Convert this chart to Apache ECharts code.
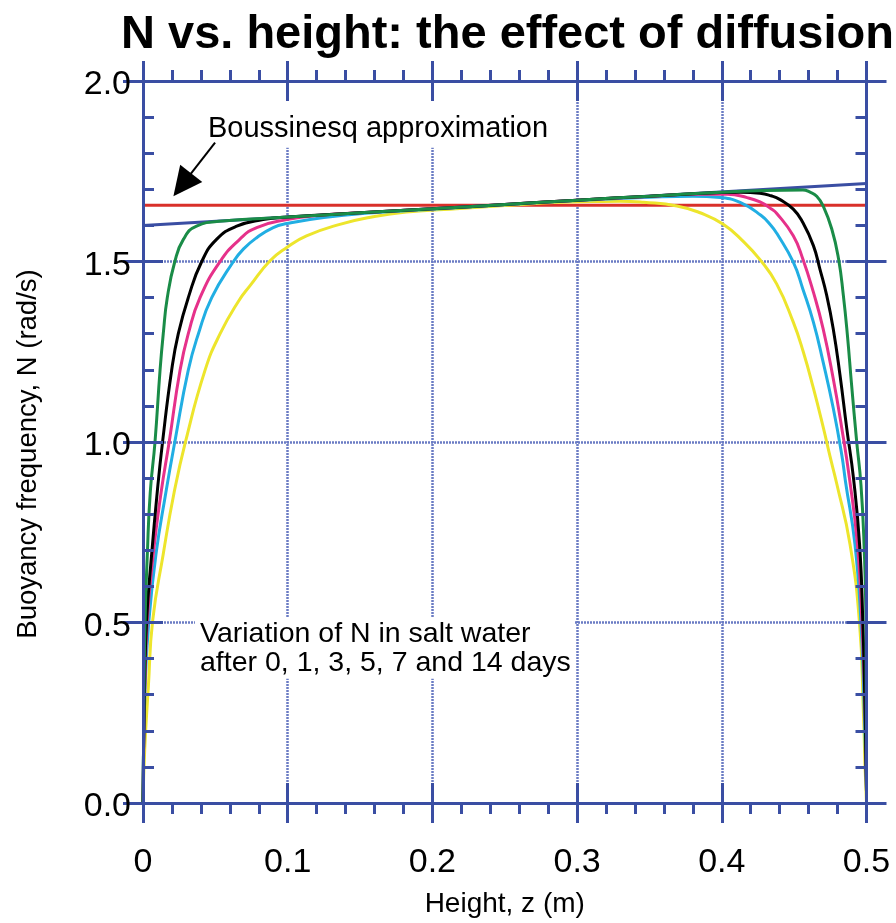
<!DOCTYPE html>
<html>
<head>
<meta charset="utf-8">
<script src="https://cdn.jsdelivr.net/npm/echarts@6/dist/echarts.min.js"></script>
<style>
  html, body { margin: 0; padding: 0; background: #ffffff; }
  #chart { width: 896px; height: 923px; }
</style>
</head>
<body>
<div id="chart"></div>
<script>
// Buoyancy frequency N (rad/s) against height z (m), pairs of [z, N]

// initial linear stratification (day 0)
const day0 = [[0, 1.600], [0.5, 1.716]];

// constant N of the Boussinesq approximation
const boussinesq = [[0, 1.656], [0.5, 1.656]];

// after 1 day
const day1 = [
  [0, 0], [0.0006, 0.25], [0.0014, 0.5], [0.003, 0.69], [0.005, 0.86], [0.0083, 1.0],
  [0.0118, 1.2], [0.014, 1.3], [0.0168, 1.4], [0.022, 1.5], [0.028, 1.562], [0.037, 1.598],
  [0.055, 1.612], [0.1, 1.623], [0.15, 1.635], [0.2, 1.646], [0.25, 1.658], [0.3, 1.670],
  [0.35, 1.681], [0.4, 1.692], [0.43, 1.697], [0.456, 1.698], [0.461, 1.692], [0.4656, 1.681],
  [0.470, 1.654], [0.476, 1.590], [0.4807, 1.507], [0.484, 1.406], [0.4868, 1.296],
  [0.4897, 1.158], [0.4932, 1.002], [0.4962, 0.88], [0.4983, 0.717], [0.4996, 0.497], [0.5, 0.05]
];

// after 3 days
const day3 = [
  [0, 0], [0.001, 0.3], [0.0025, 0.506], [0.006, 0.69], [0.0098, 0.86], [0.0136, 1.003],
  [0.0198, 1.199], [0.0244, 1.30], [0.0313, 1.40], [0.0406, 1.50], [0.051, 1.562], [0.0648, 1.598],
  [0.083, 1.616], [0.1, 1.623], [0.15, 1.635], [0.2, 1.646], [0.25, 1.658], [0.3, 1.670],
  [0.35, 1.681], [0.4, 1.691], [0.413, 1.692], [0.4264, 1.689], [0.434, 1.682], [0.440, 1.672],
  [0.4494, 1.645], [0.456, 1.608], [0.4633, 1.544], [0.4678, 1.479], [0.4725, 1.406],
  [0.477, 1.314], [0.4817, 1.185], [0.4863, 1.039], [0.491, 0.90], [0.4952, 0.717],
  [0.4975, 0.497], [0.499, 0.259], [0.5, 0.03]
];

// after 5 days
const day5 = [
  [0, 0], [0.0012, 0.3], [0.003, 0.506], [0.0071, 0.69], [0.0125, 0.86], [0.0182, 1.003],
  [0.0256, 1.199], [0.0313, 1.30], [0.0394, 1.40], [0.0533, 1.50], [0.067, 1.562], [0.0786, 1.594],
  [0.0994, 1.616], [0.125, 1.629], [0.15, 1.635], [0.2, 1.646], [0.25, 1.658], [0.3, 1.670],
  [0.35, 1.680], [0.38, 1.686], [0.404, 1.686], [0.4175, 1.677], [0.4264, 1.665], [0.434, 1.646],
  [0.438, 1.633], [0.4494, 1.571], [0.456, 1.507], [0.4633, 1.415], [0.470, 1.314], [0.477, 1.176],
  [0.4829, 1.039], [0.4882, 0.90], [0.4937, 0.717], [0.4969, 0.497], [0.499, 0.25], [0.5, 0.03]
];

// after 7 days
const day7 = [
  [0, 0], [0.0014, 0.322], [0.0041, 0.506], [0.009, 0.69], [0.0158, 0.86], [0.0221, 1.003],
  [0.0313, 1.199], [0.0383, 1.30], [0.0475, 1.40], [0.0625, 1.50], [0.0695, 1.535], [0.0786, 1.566],
  [0.090, 1.594], [0.0994, 1.605], [0.125, 1.622], [0.159, 1.635], [0.194, 1.643], [0.25, 1.657],
  [0.3, 1.669], [0.35, 1.678], [0.38, 1.681], [0.399, 1.677], [0.413, 1.663], [0.427, 1.628],
  [0.434, 1.600], [0.438, 1.578], [0.4494, 1.498], [0.456, 1.424], [0.4633, 1.332], [0.470, 1.222],
  [0.477, 1.094], [0.4829, 0.965], [0.4855, 0.89], [0.492, 0.717], [0.4962, 0.497], [0.4985, 0.25],
  [0.5, 0.03]
];

// after 14 days
const day14 = [
  [0, 0], [0.0012, 0.15], [0.0037, 0.322], [0.0067, 0.506], [0.014, 0.69], [0.0215, 0.86],
  [0.0295, 1.003], [0.0429, 1.199], [0.0533, 1.30], [0.066, 1.39], [0.074, 1.433], [0.0878, 1.502],
  [0.0994, 1.539], [0.113, 1.571], [0.136, 1.603], [0.159, 1.624], [0.182, 1.637], [0.219, 1.647],
  [0.25, 1.655], [0.288, 1.664], [0.311, 1.666], [0.33, 1.667], [0.346, 1.664], [0.369, 1.654],
  [0.385, 1.635], [0.401, 1.603], [0.415, 1.555], [0.4264, 1.505], [0.4379, 1.438], [0.4494, 1.332],
  [0.4563, 1.25], [0.4633, 1.149], [0.4702, 1.039], [0.4748, 0.96], [0.4794, 0.885],
  [0.4886, 0.717], [0.4952, 0.497], [0.4978, 0.259], [0.499, 0.1], [0.5, 0.0]
];

// axis ranges and ticks
const zMin = 0, zMax = 0.5, zStep = 0.1;
const nMin = 0, nMax = 2, nStep = 0.5;

// annotation anchors and backing boxes, in data units [z, N]
const boussinesqTextAt = [0.0449, 1.866];
const boussinesqBox = [[0.0428, 1.995], [0.2847, 1.815]];
const arrowTail = [0.0498, 1.829];
const arrowTip = [0.021, 1.681];
const variationTextAt = [0.0394, 0.427];
const variationBox = [[0.0359, 0.515], [0.2985, 0.344]];

const AXIS_COLOR = '#3a4ea3';
const GRID_COLOR = '#6b7cc4';
const FONT = '"Liberation Sans", Arial, Helvetica, sans-serif';

const chart = echarts.init(document.getElementById('chart'), null, { renderer: 'canvas' });

function xLabel(v) { return v === 0 ? '0' : v.toFixed(1); }
function yLabel(v) { return v.toFixed(1); }

function frameAxis(position, inside, opts) {
  return Object.assign({
    type: 'value',
    position: position,
    z: 3,
    axisLine: { show: true, onZero: false, lineStyle: { color: AXIS_COLOR, width: 3 } },
    axisTick: { show: true, inside: inside, length: 20, lineStyle: { color: AXIS_COLOR, width: 3 } },
    minorTick: { show: false },
    axisLabel: { show: false },
    splitLine: { show: false }
  }, opts);
}

const xRange = { min: zMin, max: zMax, interval: zStep };
const yRange = { min: nMin, max: nMax, interval: nStep };
const minorStyle = { show: true, splitNumber: 5, length: 11, lineStyle: { color: AXIS_COLOR, width: 3 } };
const gridStyle = { show: true, lineStyle: { color: GRID_COLOR, width: 2.5, type: [2, 1] } };

const xAxes = [
  // grid lines underneath everything
  Object.assign({
    type: 'value', position: 'bottom', z: 0,
    axisLine: { show: false, onZero: false }, axisTick: { show: false }, axisLabel: { show: false },
    splitLine: gridStyle
  }, xRange),
  frameAxis('bottom', false, Object.assign({
    minorTick: minorStyle,
    axisLabel: { show: true, margin: 43, formatter: xLabel, color: '#000', fontSize: 34, fontFamily: FONT,
                 showMinLabel: true, showMaxLabel: true },
    name: 'Height, z (m)', nameLocation: 'middle', nameGap: 87,
    nameTextStyle: { color: '#000', fontSize: 28, fontFamily: FONT }
  }, xRange)),
  frameAxis('bottom', true, Object.assign({}, xRange)),
  frameAxis('top', false, Object.assign({ minorTick: minorStyle }, xRange)),
  frameAxis('top', true, Object.assign({}, xRange))
];

const yAxes = [
  Object.assign({
    type: 'value', position: 'left', z: 0,
    axisLine: { show: false, onZero: false }, axisTick: { show: false }, axisLabel: { show: false },
    splitLine: gridStyle
  }, yRange),
  frameAxis('left', false, Object.assign({
    axisLabel: { show: true, margin: 12, formatter: yLabel, color: '#000', fontSize: 34, fontFamily: FONT,
                 showMinLabel: true, showMaxLabel: true, verticalAlign: 'top', lineHeight: 8 },
    name: 'Buoyancy frequency, N (rad/s)', nameLocation: 'middle', nameGap: 101, nameRotate: 90,
    nameTextStyle: { color: '#000', fontSize: 27.5, fontFamily: FONT, padding: [0, 24, 0, 0] }
  }, yRange)),
  frameAxis('left', true, Object.assign({ minorTick: minorStyle }, yRange)),
  frameAxis('right', false, Object.assign({}, yRange)),
  frameAxis('right', true, Object.assign({ minorTick: minorStyle }, yRange))
];

function curve(name, data, color) {
  return {
    name: name, type: 'line', data: data, xAxisIndex: 0, yAxisIndex: 0,
    showSymbol: false, symbol: 'none', smooth: 0.5, animation: false,
    lineStyle: { color: color, width: 3 }, itemStyle: { color: color }, z: 2
  };
}

chart.setOption({
  animation: false,
  backgroundColor: '#ffffff',
  title: {
    text: 'N vs. height: the effect of diffusion',
    left: 116, top: 7,
    textStyle: { color: '#000', fontSize: 47, fontWeight: 'bold', fontFamily: FONT }
  },
  grid: { left: 143, right: 29.5, top: 81, bottom: 116, containLabel: false },
  xAxis: xAxes,
  yAxis: yAxes,
  series: [
    curve('Boussinesq', boussinesq, '#d9302a'),
    curve('0 days', day0, '#3a4ea3'),
    curve('14 days', day14, '#ede52c'),
    curve('7 days', day7, '#21aee3'),
    curve('5 days', day5, '#e6318a'),
    curve('3 days', day3, '#000000'),
    curve('1 day', day1, '#1a8c47')
  ]
});

// annotation text and arrow, placed from data coordinates
function px(p) { return chart.convertToPixel({ gridIndex: 0 }, p); }
function boxRect(box) {
  const a = px(box[0]), b = px(box[1]);
  return { x: a[0], y: a[1], width: b[0] - a[0], height: b[1] - a[1] };
}

const tail = px(arrowTail), tip = px(arrowTip);
const dx = tip[0] - tail[0], dy = tip[1] - tail[1];
const len = Math.sqrt(dx * dx + dy * dy);
const ux = dx / len, uy = dy / len;
const headLen = 29, headHalf = 14;
const base = [tip[0] - ux * headLen, tip[1] - uy * headLen];
const headPts = [
  tip,
  [base[0] - uy * headHalf, base[1] + ux * headHalf],
  [base[0] + uy * headHalf, base[1] - ux * headHalf]
];

const bText = px(boussinesqTextAt);
const vText = px(variationTextAt);

chart.setOption({
  graphic: [
    // white backing under the notes: above the grid lines, below the curves and the frame
    { type: 'rect', z: 1, shape: boxRect(boussinesqBox), style: { fill: '#ffffff' } },
    { type: 'rect', z: 1, shape: boxRect(variationBox), style: { fill: '#ffffff' } },
    {
      type: 'text', z: 10, x: bText[0], y: bText[1],
      style: {
        text: 'Boussinesq approximation', fill: '#000', font: '29px ' + FONT,
        align: 'left', verticalAlign: 'middle'
      }
    },
    {
      type: 'line', z: 10,
      shape: { x1: tail[0], y1: tail[1], x2: base[0] + ux * 4, y2: base[1] + uy * 4 },
      style: { stroke: '#000', lineWidth: 2 }
    },
    {
      type: 'polygon', z: 10,
      shape: { points: headPts },
      style: { fill: '#000' }
    },
    {
      type: 'text', z: 10, x: vText[0], y: vText[1],
      style: {
        text: 'Variation of N in salt water\nafter 0, 1, 3, 5, 7 and 14 days', fill: '#000',
        font: '28.5px ' + FONT, lineHeight: 29,
        align: 'left', verticalAlign: 'middle'
      }
    }
  ]
});
</script>
</body>
</html>
